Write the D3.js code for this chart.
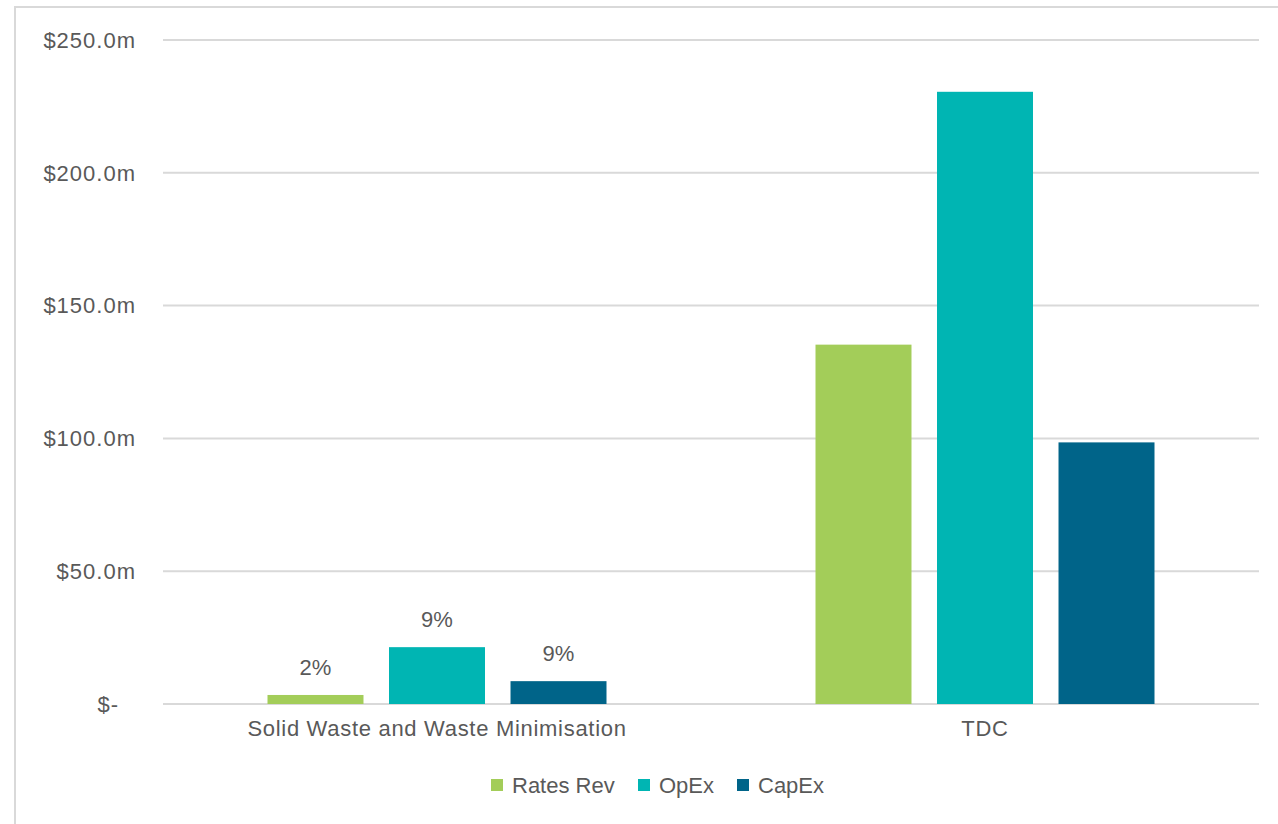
<!DOCTYPE html>
<html>
<head>
<meta charset="utf-8">
<script src="https://cdn.jsdelivr.net/npm/d3@7"></script>
<style>
  body { margin: 0; background: #fff; }
  svg text { font-family: "Liberation Sans", Arial, sans-serif; fill: #595959; }
</style>
</head>
<body>
<svg id="chart"></svg>
<script>
// Chart data
const categories = ["Solid Waste and Waste Minimisation", "TDC"];
const seriesNames = ["Rates Rev", "OpEx", "CapEx"];
const seriesColors = ["#a3cd59", "#00b5b3", "#006489"];
const ratesRev = [3.4, 135.3];
const opEx = [21.4, 230.5];
const capEx = [8.6, 98.5];
// data labels only shown on the first category
const pctLabels = [["2%", "9%", "9%"], ["", "", ""]];
const yTicks = [0, 50, 100, 150, 200, 250];

const W = 1278, H = 824;
const margin = { top: 40, right: 19, bottom: 120, left: 163 };
const width = W - margin.left - margin.right;
const height = 704 - margin.top;

const svg = d3.select("#chart").attr("width", W).attr("height", H);

// outer chart border
svg.append("rect")
    .attr("x", 15).attr("y", 7)
    .attr("width", W).attr("height", H)
    .attr("fill", "none")
    .attr("stroke", "#d9d9d9")
    .attr("stroke-width", 2);

const g = svg.append("g").attr("transform", "translate(" + margin.left + "," + margin.top + ")");

const x0 = d3.scaleBand().domain(categories).range([0, width]).padding(0);
const groupPad = 104.5;
const x1 = d3.scaleBand().domain(seriesNames)
    .range([groupPad, x0.bandwidth() - groupPad])
    .paddingInner(0.21).paddingOuter(0);
const y = d3.scaleLinear().domain([0, 250]).range([height, 0]);

// gridlines
g.selectAll(".grid")
    .data(yTicks)
    .enter()
    .append("line")
    .attr("class", "grid")
    .attr("x1", 0).attr("x2", width)
    .attr("y1", d => y(d)).attr("y2", d => y(d))
    .attr("stroke", "#d9d9d9")
    .attr("stroke-width", 2);

// y tick labels (accounting style)
g.selectAll(".ytick")
    .data(yTicks)
    .enter()
    .append("text")
    .attr("class", "ytick")
    .attr("x", d => d === 0 ? -44 : -27)
    .attr("y", d => y(d))
    .attr("dy", "0.35em")
    .attr("text-anchor", "end")
    .style("font-size", "22px")
    .style("letter-spacing", "1px")
    .text(d => d === 0 ? "$-" : "$" + d3.format(".1f")(d) + "m");

const table = categories.map((c, i) => ({
    cat: c,
    values: [ratesRev[i], opEx[i], capEx[i]].map((v, j) => ({ name: seriesNames[j], value: v, label: pctLabels[i][j], color: seriesColors[j] }))
}));

const groups = g.selectAll(".group")
    .data(table)
    .enter()
    .append("g")
    .attr("class", "group")
    .attr("transform", d => "translate(" + x0(d.cat) + ",0)");

groups.selectAll("rect")
    .data(d => d.values)
    .enter()
    .append("rect")
    .attr("x", d => x1(d.name))
    .attr("y", d => y(d.value))
    .attr("width", x1.bandwidth())
    .attr("height", d => y(0) - y(d.value))
    .attr("fill", d => d.color);

groups.selectAll(".lbl")
    .data(d => d.values.filter(v => v.label))
    .enter()
    .append("text")
    .attr("class", "lbl")
    .attr("x", d => x1(d.name) + x1.bandwidth() / 2)
    .attr("y", d => y(d.value) - 20)
    .attr("text-anchor", "middle")
    .style("font-size", "22px")
    .text(d => d.label);

// category labels
g.selectAll(".xlab")
    .data(categories)
    .enter()
    .append("text")
    .attr("class", "xlab")
    .attr("x", d => x0(d) + x0.bandwidth() / 2)
    .attr("y", height + 32)
    .attr("text-anchor", "middle")
    .style("font-size", "22px")
    .style("letter-spacing", "0.7px")
    .text(d => d);

// legend
const legendX = [491, 638, 737];
const legend = svg.selectAll(".legend")
    .data(seriesNames)
    .enter()
    .append("g")
    .attr("class", "legend")
    .attr("transform", (d, i) => "translate(" + legendX[i] + ",779)");

legend.append("rect")
    .attr("width", 12).attr("height", 12)
    .attr("fill", (d, i) => seriesColors[i]);

legend.append("text")
    .attr("x", 21).attr("y", 6)
    .attr("dy", "0.35em")
    .style("font-size", "22px")
    .text(d => d);
</script>
</body>
</html>
